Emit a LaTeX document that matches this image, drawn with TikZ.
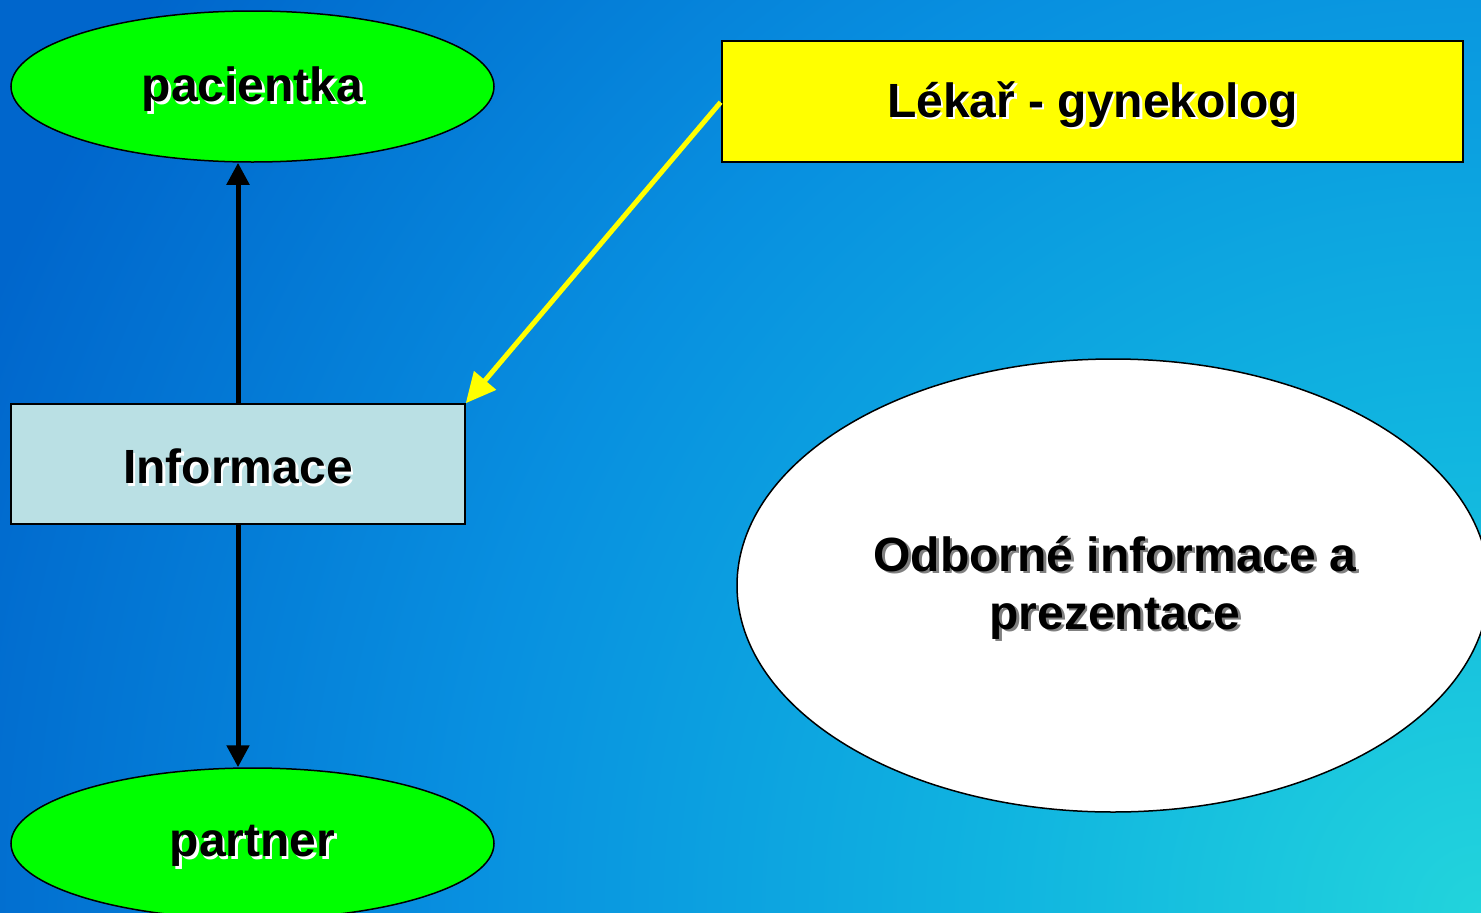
\documentclass[tikz,border=0pt]{standalone}
\usepackage{fontspec}
\setmainfont{Liberation Sans}
\usetikzlibrary{shapes.geometric,arrows.meta}
\definecolor{bgA}{HTML}{22D4DC}
\definecolor{bgB}{HTML}{10B4E0}
\definecolor{bgC}{HTML}{0890E0}
\definecolor{bgD}{HTML}{0066CC}
\definecolor{greenfill}{HTML}{00FF00}
\definecolor{infofill}{HTML}{BAE0E4}
\definecolor{yel}{HTML}{FFFF00}
\pgfdeclareradialshading{bgshade}{\pgfpoint{0bp}{0bp}}{color(0bp)=(bgA); color(7bp)=(bgB); color(14.5bp)=(bgC); color(23bp)=(bgD); color(50bp)=(bgD)}
\newcommand{\shd}[2]{\leavevmode\raisebox{-4pt}[\height][\depth]{\rlap{\kern2.5pt\raisebox{-2.5pt}{\textcolor{#1}{#2}}}#2}}
\tikzset{
  lbl/.style={font=\fontsize{48}{58}\selectfont\bfseries, text=black, inner sep=0pt},
  greenell/.style={ellipse, draw=black, line width=1.5pt, fill=greenfill, minimum width=483pt, minimum height=151pt, inner sep=0pt, lbl},
  boxnode/.style={rectangle, draw=black, line width=1.5pt, inner sep=0pt, lbl},
  blackarrow/.style={line width=5pt, draw=black, -{Triangle[length=22pt,width=22pt]}},
  yelarrow/.style={line width=5pt, draw=yel, -{Triangle[length=30pt,width=28pt]}, shorten <=1pt},
}
\begin{document}
\begin{tikzpicture}[x=1pt,y=-1pt]
\useasboundingbox (0,0) rectangle (1481,913);
\begin{scope}
\clip (0,0) rectangle (1481,913);
\shade[shading=bgshade] (1481,913) circle (1750pt);
\node[ellipse, draw=black, line width=1.5pt, fill=white, minimum width=752pt, minimum height=453pt, inner sep=0pt] (odb) at (1113,585.5) {};
\node[greenell] (par) at (252.5,843.5) {\shd{white}{partner}};
\end{scope}
\node[lbl, align=center] (odbt) at (1115,585) {\shd{gray}{Odborné informace a}\\\shd{gray}{prezentace}};
\node[greenell] (pac) at (252.5,86.5) {\shd{white}{pacientka}};
\node[boxnode, fill=yel, minimum width=741pt, minimum height=121pt] (lek) at (1092.5,101.5) {\shd{white}{Lékař - gynekolog}};
\node[boxnode, fill=infofill, minimum width=454pt, minimum height=120pt] (inf) at (238,464) {\shd{white}{Informace}};
\draw[blackarrow] (inf.north) -- (inf.north |- pac.south);
\draw[blackarrow] (inf.south) -- (inf.south |- par.north);
\draw[yelarrow] (lek.west) -- (inf.north east);
\end{tikzpicture}
\end{document}
